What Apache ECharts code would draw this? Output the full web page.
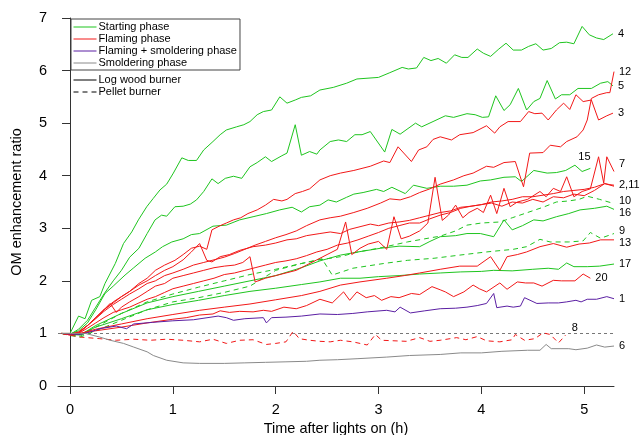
<!DOCTYPE html>
<html><head><meta charset="utf-8">
<script src="https://cdn.jsdelivr.net/npm/echarts@6/dist/echarts.min.js"></script>
<style>html,body{margin:0;padding:0;background:#fff}#c{width:641px;height:435px}</style>
</head><body><div id="c"></div>
<script>
// ---- data: [time (h), OM enhancement ratio] ----
const s4 = [[-0.08,1.0],[0,1.0],[0.083,1.33],[0.146,1.28],[0.21,1.63],[0.29,1.70],[0.34,1.95],[0.44,2.33],[0.52,2.71],[0.6,2.93],[0.665,3.16],[0.746,3.41],[0.81,3.57],[0.875,3.73],[0.94,3.84],[1.005,4.05],[1.087,4.34],[1.15,4.29],[1.23,4.29],[1.30,4.49],[1.39,4.65],[1.46,4.78],[1.52,4.87],[1.62,4.93],[1.69,4.97],[1.75,5.03],[1.82,5.16],[1.88,5.22],[1.96,5.25],[2.04,5.50],[2.11,5.38],[2.19,5.44],[2.25,5.49],[2.34,5.52],[2.43,5.63],[2.56,5.68],[2.69,5.76],[2.79,5.84],[3.0,5.87],[3.11,5.96],[3.23,6.06],[3.29,6.03],[3.37,6.05],[3.44,6.25],[3.51,6.19],[3.58,6.23],[3.66,6.14],[3.74,6.30],[3.81,6.25],[3.87,6.25],[3.96,6.41],[4.02,6.33],[4.09,6.27],[4.17,6.41],[4.24,6.52],[4.31,6.39],[4.39,6.39],[4.46,6.46],[4.53,6.51],[4.60,6.39],[4.68,6.42],[4.76,6.53],[4.83,6.54],[4.90,6.51],[4.98,6.84],[5.05,6.68],[5.12,6.62],[5.19,6.59],[5.28,6.70]];
const s5 = [[-0.08,1.0],[0,0.98],[0.083,1.08],[0.17,1.25],[0.25,1.5],[0.33,1.75],[0.42,2.0],[0.5,2.2],[0.58,2.45],[0.67,2.62],[0.75,2.9],[0.827,3.16],[0.89,3.25],[0.94,3.23],[1.02,3.41],[1.10,3.42],[1.17,3.46],[1.23,3.54],[1.30,3.70],[1.38,3.94],[1.44,3.85],[1.51,3.95],[1.59,3.99],[1.67,3.95],[1.75,4.17],[1.82,4.25],[1.90,4.36],[1.96,4.27],[2.06,4.38],[2.11,4.43],[2.19,4.97],[2.25,4.39],[2.33,4.46],[2.40,4.41],[2.43,4.49],[2.53,4.65],[2.61,4.68],[2.69,4.65],[2.77,4.78],[2.84,4.78],[2.92,4.84],[3.06,4.45],[3.13,4.88],[3.21,4.79],[3.36,5.0],[3.42,4.93],[3.53,5.03],[3.65,5.14],[3.73,5.11],[3.86,5.18],[3.94,5.16],[4.01,5.11],[4.07,5.12],[4.14,5.52],[4.22,5.24],[4.28,5.35],[4.36,5.66],[4.44,5.25],[4.51,5.41],[4.57,5.47],[4.64,5.81],[4.72,5.46],[4.78,5.54],[4.86,5.54],[4.94,5.66],[5.07,5.66],[5.16,5.76],[5.23,5.79],[5.28,5.71]];
const s12 = [[-0.08,1.0],[0,0.97],[0.083,1.0],[0.17,1.15],[0.25,1.28],[0.33,1.42],[0.42,1.55],[0.5,1.65],[0.58,1.75],[0.67,1.85],[0.75,1.95],[0.83,2.0],[0.92,2.1],[1.0,2.15],[1.1,2.22],[1.2,2.3],[1.3,2.35],[1.4,2.4],[1.5,2.45],[1.6,2.52],[1.7,2.6],[1.8,2.68],[1.9,2.75],[2.0,2.82],[2.1,2.88],[2.2,2.95],[2.3,3.05],[2.43,3.16],[2.53,3.2],[2.63,3.23],[2.76,3.3],[2.89,3.38],[3.02,3.48],[3.11,3.56],[3.21,3.54],[3.31,3.6],[3.40,3.68],[3.5,3.75],[3.6,3.84],[3.73,3.92],[3.83,4.0],[3.92,4.05],[4.05,4.18],[4.12,4.16],[4.22,4.25],[4.33,4.27],[4.41,3.79],[4.47,4.43],[4.6,4.44],[4.67,4.58],[4.77,4.55],[4.83,4.65],[4.93,4.74],[4.99,4.87],[5.03,5.06],[5.07,5.47],[5.14,5.54],[5.22,5.58],[5.25,5.58],[5.29,5.98]];
const s3 = [[-0.08,1.0],[0,0.98],[0.083,1.02],[0.17,1.15],[0.25,1.3],[0.33,1.45],[0.42,1.6],[0.5,1.7],[0.58,1.8],[0.67,1.95],[0.75,2.05],[0.83,2.2],[0.92,2.3],[1.02,2.39],[1.1,2.5],[1.18,2.62],[1.26,2.66],[1.33,2.6],[1.38,2.97],[1.46,3.05],[1.52,3.1],[1.59,3.16],[1.66,3.2],[1.73,3.28],[1.82,3.35],[1.90,3.44],[1.98,3.55],[2.06,3.52],[2.11,3.55],[2.19,3.66],[2.26,3.7],[2.33,3.75],[2.43,3.92],[2.53,4.0],[2.63,4.05],[2.76,4.10],[2.92,4.18],[3.05,4.28],[3.11,4.25],[3.19,4.55],[3.32,4.27],[3.39,4.49],[3.47,4.55],[3.53,4.69],[3.60,4.74],[3.71,4.68],[3.79,4.78],[3.92,4.82],[4.05,4.95],[4.13,4.81],[4.18,4.93],[4.26,5.03],[4.38,5.03],[4.46,5.22],[4.52,5.18],[4.59,5.19],[4.65,5.06],[4.73,5.25],[4.80,5.38],[4.86,5.26],[4.92,5.54],[4.99,5.41],[5.07,5.44],[5.14,5.06],[5.22,5.14],[5.28,5.19]];
const s15 = [[-0.08,1.0],[0,0.99],[0.083,1.05],[0.17,1.2],[0.25,1.45],[0.34,1.76],[0.42,1.9],[0.535,2.11],[0.62,2.25],[0.73,2.43],[0.83,2.55],[0.9,2.65],[0.99,2.74],[1.1,2.8],[1.18,2.88],[1.26,2.90],[1.39,3.04],[1.52,3.06],[1.65,3.16],[1.78,3.22],[1.91,3.28],[2.04,3.35],[2.16,3.40],[2.25,3.31],[2.33,3.41],[2.43,3.44],[2.51,3.54],[2.59,3.50],[2.69,3.59],[2.76,3.65],[2.85,3.68],[2.98,3.74],[3.05,3.70],[3.13,3.78],[3.26,3.66],[3.34,3.82],[3.47,3.76],[3.60,3.80],[3.73,3.80],[3.86,3.82],[3.99,3.90],[4.09,3.92],[4.22,3.97],[4.33,3.98],[4.39,3.89],[4.51,4.10],[4.64,4.05],[4.73,4.06],[4.82,4.10],[4.91,4.20],[4.98,4.08],[5.06,4.14]];
const s7 = [[-0.08,1.0],[0,0.97],[0.083,1.02],[0.17,1.15],[0.25,1.3],[0.33,1.45],[0.39,1.57],[0.45,1.4],[0.5,1.5],[0.58,1.6],[0.67,1.7],[0.75,1.8],[0.83,1.9],[0.92,1.95],[1.0,2.05],[1.1,2.1],[1.2,2.15],[1.3,2.2],[1.4,2.25],[1.5,2.28],[1.6,2.3],[1.68,2.35],[1.75,2.46],[1.8,1.98],[1.9,2.05],[2.0,2.1],[2.1,2.15],[2.2,2.2],[2.3,2.3],[2.4,2.4],[2.5,2.5],[2.6,2.6],[2.68,3.12],[2.74,2.5],[2.82,2.62],[2.9,2.7],[3.0,2.75],[3.08,2.6],[3.15,3.22],[3.22,2.8],[3.3,2.85],[3.4,2.95],[3.48,3.1],[3.55,3.97],[3.62,3.15],[3.68,3.25],[3.75,3.44],[3.82,3.2],[3.88,3.3],[3.96,3.38],[4.02,3.3],[4.09,3.63],[4.15,3.28],[4.22,3.76],[4.28,3.41],[4.35,3.5],[4.45,3.55],[4.57,3.70],[4.63,3.6],[4.70,3.76],[4.77,3.7],[4.83,3.98],[4.90,3.60],[4.98,3.7],[5.06,3.75],[5.14,4.36],[5.19,3.86],[5.22,4.36],[5.29,4.08]];
const s2 = [[-0.08,1.0],[0,0.98],[0.083,1.03],[0.17,1.15],[0.25,1.3],[0.33,1.45],[0.42,1.58],[0.5,1.7],[0.58,1.8],[0.67,1.92],[0.75,2.0],[0.83,2.1],[0.92,2.2],[1.0,2.27],[1.1,2.4],[1.18,2.55],[1.26,2.71],[1.33,2.39],[1.38,2.36],[1.46,2.46],[1.55,2.5],[1.65,2.58],[1.78,2.65],[1.9,2.68],[2.0,2.72],[2.11,2.78],[2.2,2.8],[2.3,2.86],[2.43,2.90],[2.53,2.93],[2.63,2.90],[2.72,2.98],[2.82,3.03],[2.92,3.08],[3.0,3.05],[3.1,3.1],[3.2,3.12],[3.3,3.15],[3.4,3.2],[3.5,3.25],[3.6,3.3],[3.7,3.33],[3.8,3.4],[3.9,3.42],[4.0,3.45],[4.1,3.5],[4.2,3.52],[4.3,3.55],[4.4,3.6],[4.5,3.6],[4.6,3.63],[4.7,3.66],[4.8,3.7],[4.9,3.72],[5.0,3.74],[5.1,3.78],[5.2,3.85],[5.25,3.83],[5.29,3.82]];
const s11 = [[-0.08,1.0],[0,0.99],[0.083,1.0],[0.17,1.1],[0.25,1.2],[0.33,1.3],[0.42,1.4],[0.5,1.45],[0.58,1.5],[0.67,1.58],[0.75,1.65],[0.83,1.7],[0.92,1.78],[1.0,1.85],[1.1,1.9],[1.2,1.95],[1.3,2.0],[1.4,2.05],[1.5,2.12],[1.6,2.15],[1.7,2.2],[1.8,2.25],[1.9,2.3],[2.0,2.35],[2.1,2.38],[2.2,2.42],[2.3,2.48],[2.4,2.55],[2.5,2.6],[2.6,2.68],[2.7,2.72],[2.8,2.78],[2.9,2.85],[3.0,2.92],[3.1,3.0],[3.2,3.05],[3.3,3.1],[3.4,3.1],[3.5,3.18],[3.6,3.25],[3.7,3.3],[3.8,3.38],[3.9,3.42],[4.0,3.45],[4.1,3.48],[4.2,3.42],[4.3,3.5],[4.4,3.48],[4.5,3.55],[4.6,3.5],[4.7,3.6],[4.8,3.58],[4.9,3.65],[5.0,3.62],[5.1,3.72],[5.2,3.85],[5.29,3.8]];
const s10 = [[-0.08,1.0],[0,0.97],[0.1,0.95],[0.25,1.12],[0.5,1.38],[0.75,1.6],[1.0,1.75],[1.25,1.88],[1.5,2.0],[1.75,2.12],[2.0,2.22],[2.25,2.33],[2.43,2.4],[2.63,2.46],[2.8,2.55],[3.0,2.62],[3.28,2.74],[3.45,2.8],[3.6,2.85],[3.75,2.95],[3.86,3.06],[4.0,3.1],[4.18,3.12],[4.3,3.2],[4.45,3.3],[4.6,3.4],[4.73,3.5],[4.85,3.52],[4.95,3.55],[5.03,3.61],[5.15,3.55],[5.29,3.47]];
const s16 = [[-0.08,1.0],[0,0.98],[0.1,0.97],[0.25,1.15],[0.5,1.38],[0.75,1.58],[1.0,1.7],[1.25,1.8],[1.5,1.9],[1.75,2.0],[2.0,2.1],[2.25,2.25],[2.43,2.38],[2.63,2.49],[2.8,2.55],[3.02,2.62],[3.2,2.66],[3.40,2.65],[3.5,2.75],[3.60,2.84],[3.75,2.86],[3.86,2.90],[3.99,2.90],[4.12,2.84],[4.22,3.16],[4.30,2.97],[4.4,3.05],[4.51,3.16],[4.6,3.14],[4.73,3.22],[4.85,3.28],[4.96,3.35],[5.1,3.38],[5.22,3.42],[5.29,3.36]];
const s9 = [[-0.08,1.0],[0,0.96],[0.1,0.93],[0.25,1.05],[0.5,1.25],[0.75,1.45],[1.0,1.6],[1.25,1.68],[1.5,1.78],[1.75,1.9],[2.0,2.2],[2.25,2.33],[2.45,2.42],[2.55,2.11],[2.75,2.24],[3.05,2.33],[3.28,2.39],[3.54,2.43],[3.79,2.49],[4.05,2.55],[4.31,2.60],[4.44,2.65],[4.57,2.79],[4.67,2.74],[4.85,2.74],[4.99,2.76],[5.06,2.92],[5.16,2.81],[5.29,2.90]];
const s13 = [[-0.08,1.0],[0,0.99],[0.1,1.0],[0.25,1.08],[0.5,1.18],[0.75,1.28],[1.0,1.36],[1.26,1.44],[1.5,1.5],[1.75,1.56],[2.0,1.64],[2.25,1.72],[2.43,1.8],[2.63,1.92],[2.82,1.98],[3.08,2.05],[3.25,2.1],[3.40,2.15],[3.6,2.22],[3.79,2.28],[3.96,2.28],[4.09,2.46],[4.18,2.20],[4.25,2.46],[4.35,2.5],[4.44,2.55],[4.57,2.65],[4.70,2.71],[4.83,2.64],[4.95,2.7],[5.05,2.72],[5.16,2.78],[5.29,2.78]];
const s17 = [[-0.08,1.0],[0,0.98],[0.1,0.98],[0.25,1.12],[0.5,1.28],[0.75,1.45],[1.0,1.55],[1.25,1.63],[1.5,1.72],[1.75,1.8],[2.0,1.86],[2.25,1.93],[2.43,1.98],[2.63,2.05],[2.82,2.05],[3.0,2.08],[3.2,2.1],[3.40,2.13],[3.6,2.15],[3.8,2.17],[4.0,2.18],[4.12,2.20],[4.3,2.19],[4.5,2.22],[4.65,2.24],[4.75,2.22],[4.83,2.34],[4.9,2.27],[5.03,2.27],[5.15,2.28],[5.29,2.32]];
const s20 = [[-0.08,1.0],[0,1.0],[0.1,1.0],[0.25,1.05],[0.5,1.12],[0.75,1.2],[1.0,1.27],[1.13,1.3],[1.26,1.35],[1.39,1.37],[1.46,1.43],[1.55,1.40],[1.65,1.42],[1.78,1.41],[1.88,1.44],[1.96,1.42],[2.08,1.5],[2.2,1.47],[2.3,1.53],[2.43,1.65],[2.55,1.58],[2.66,1.79],[2.72,1.63],[2.79,1.79],[2.88,1.68],[2.96,1.72],[3.03,1.63],[3.12,1.70],[3.2,1.68],[3.32,1.76],[3.40,1.74],[3.52,1.89],[3.6,1.83],[3.65,1.79],[3.73,1.70],[3.83,1.79],[3.92,1.92],[3.98,1.85],[4.05,1.79],[4.18,1.96],[4.25,1.84],[4.35,1.98],[4.43,1.96],[4.51,1.96],[4.59,1.90],[4.70,2.01],[4.78,2.0],[4.91,2.0],[4.99,2.13],[5.06,2.05]];
const s1 = [[-0.08,1.0],[0,0.99],[0.1,0.98],[0.2,1.03],[0.29,1.09],[0.45,1.14],[0.55,1.09],[0.62,1.18],[0.8,1.21],[1.0,1.24],[1.2,1.26],[1.44,1.33],[1.52,1.3],[1.59,1.25],[1.7,1.28],[1.88,1.30],[1.91,1.20],[1.96,1.3],[2.1,1.31],[2.25,1.33],[2.43,1.37],[2.6,1.36],[2.75,1.38],[2.89,1.41],[3.08,1.44],[3.16,1.41],[3.21,1.50],[3.31,1.39],[3.45,1.43],[3.60,1.47],[3.75,1.48],[3.86,1.50],[3.96,1.53],[4.05,1.57],[4.12,1.76],[4.15,1.49],[4.25,1.52],[4.31,1.50],[4.38,1.52],[4.42,1.68],[4.54,1.57],[4.65,1.58],[4.75,1.58],[4.83,1.60],[4.92,1.63],[4.97,1.60],[5.03,1.65],[5.12,1.65],[5.22,1.70],[5.29,1.66]];
const s8 = [[-0.08,1.0],[0,0.97],[0.1,0.93],[0.29,0.9],[0.45,0.87],[0.62,0.89],[0.78,0.87],[0.94,0.89],[1.1,0.87],[1.26,0.84],[1.39,0.89],[1.52,0.81],[1.65,0.87],[1.78,0.88],[1.91,0.79],[2.0,0.81],[2.1,0.84],[2.17,1.04],[2.23,0.9],[2.33,0.87],[2.43,0.85],[2.53,0.84],[2.63,0.87],[2.75,0.84],[2.89,0.78],[2.97,0.98],[3.03,0.87],[3.27,0.85],[3.40,0.92],[3.5,0.85],[3.6,0.87],[3.76,0.92],[3.85,0.88],[3.96,0.94],[4.05,0.86],[4.18,0.84],[4.3,0.88],[4.33,0.98],[4.42,0.87],[4.52,0.9],[4.60,1.01],[4.67,0.98],[4.75,0.82],[4.82,0.97]];
const s6 = [[-0.08,1.0],[0,1.0],[0.15,1.0],[0.29,0.93],[0.39,0.87],[0.52,0.81],[0.62,0.74],[0.75,0.65],[0.81,0.58],[0.94,0.49],[1.1,0.44],[1.26,0.43],[1.5,0.43],[1.7,0.44],[1.9,0.45],[2.1,0.46],[2.3,0.47],[2.43,0.49],[2.6,0.50],[2.8,0.52],[3.08,0.55],[3.3,0.58],[3.6,0.60],[3.8,0.63],[4.0,0.63],[4.2,0.66],[4.45,0.68],[4.57,0.68],[4.63,0.79],[4.68,0.71],[4.85,0.71],[4.92,0.69],[5.03,0.72],[5.12,0.78],[5.2,0.74],[5.29,0.76]];
const xTicks = [0, 1, 2, 3, 4, 5];
const refLevel = 1;
const phaseNames = ['Starting phase', 'Flaming phase', 'Flaming + smoldering phase', 'Smoldering phase'];
const burnerNames = ['Log wood burner', 'Pellet burner'];

// ---- styling ----
const GREEN = '#1FC51F', RED = '#F21818', PURPLE = '#5B1FA3', GRAY = '#8A8A8A';
const FONT = 'Liberation Sans, Arial, Helvetica, sans-serif';
const DASH = [5, 4];

const lines = [
  {id:'4', data:s4, color:GREEN},
  {id:'5', data:s5, color:GREEN},
  {id:'15', data:s15, color:GREEN, off:[-17,-11]},
  {id:'16', data:s16, color:GREEN, off:[0,4]},
  {id:'17', data:s17, color:GREEN},
  {id:'10', data:s10, color:GREEN, dash:true, off:[0,-3]},
  {id:'9', data:s9, color:GREEN, dash:true, off:[0,-3]},
  {id:'20', data:s20, color:RED},
  {id:'13', data:s13, color:RED, off:[0,3]},
  {id:'11', data:s11, color:RED, nolabel:true},
  {id:'2,11', data:s2, color:RED},
  {id:'7', data:s7, color:RED, off:[0,-8]},
  {id:'3', data:s3, color:RED},
  {id:'12', data:s12, color:RED},
  {id:'8', data:s8, color:RED, dash:true, off:[1,-7]},
  {id:'1', data:s1, color:PURPLE},
  {id:'6', data:s6, color:GRAY}
];

const series = lines.map(l => ({
  name: 's' + l.id, type: 'line', data: l.data, symbol: 'none', silent: true,
  lineStyle: {color: l.color, width: 1, type: l.dash ? DASH : 'solid'},
  itemStyle: {color: l.color},
  endLabel: l.nolabel ? {show:false} : {show: true, formatter: l.id, color: '#000', fontSize: 11, fontFamily: FONT, distance: 5, offset: l.off || [0,0]},
  z: 3
}));
series[series.length-1].markLine = {
  silent: true, symbol: 'none', label: {show:false},
  lineStyle: {color: '#777', type: [3,3], width: 1},
  data: [{yAxis: refLevel}], z: 2
};
const legendColors = [GREEN, RED, PURPLE, GRAY];
phaseNames.forEach((n,i) => series.push({name:n, type:'line', data:[], symbol:'none', lineStyle:{color:legendColors[i], width:1}, itemStyle:{color:legendColors[i]}}));
burnerNames.forEach((n,i) => series.push({name:n, type:'line', data:[], symbol:'none', lineStyle:{color:'#000', width:1, type: i ? DASH : 'solid'}, itemStyle:{color:'#000'}}));

const legendCommon = {
  orient: 'vertical', left: 71, itemWidth: 23, itemHeight: 12, itemGap: 0,
  padding: [2, 3, 1, 2], selectedMode: false,
  itemStyle: {opacity: 0, borderWidth: 0},
  lineStyle: {width: 1},
  textStyle: {fontSize: 11, color: '#000', fontFamily: FONT, lineHeight: 12, padding: [0,0,0,-3]}
};

const chart = echarts.init(document.getElementById('c'), null, {renderer:'canvas'});
chart.setOption({
  animation: false,
  backgroundColor: '#fff',
  textStyle: {fontFamily: FONT},
  grid: {left: 58, right: 27, top: 18, bottom: 49, containLabel: false, outerBoundsMode: 'none'},
  legend: [
    Object.assign({}, legendCommon, {data: phaseNames, top: 19, borderColor: '#444', borderWidth: 1}),
    Object.assign({}, legendCommon, {data: burnerNames, top: 72})
  ],
  xAxis: {
    type: 'value', min: -0.117, max: 5.29,
    name: 'Time after lights on (h)', nameLocation: 'middle', nameGap: 34,
    nameTextStyle: {fontSize: 14.5, color: '#000', fontFamily: FONT},
    axisLine: {show: true, lineStyle: {color: '#333', width: 1}},
    axisTick: {show: true, length: 8, customValues: xTicks, lineStyle: {color: '#333'}},
    axisLabel: {customValues: xTicks, fontSize: 14.5, color: '#000', margin: 16, fontFamily: FONT},
    splitLine: {show: false}
  },
  yAxis: {
    type: 'value', min: 0, max: 7, interval: 1,
    name: 'OM enhancement ratio', nameLocation: 'middle', nameGap: 34, nameRotate: 90,
    nameTextStyle: {fontSize: 14.5, color: '#000', fontFamily: FONT},
    axisLine: {show: true, lineStyle: {color: '#333', width: 1}},
    axisTick: {show: true, length: 8, lineStyle: {color: '#333'}},
    axisLabel: {fontSize: 14.5, color: '#000', margin: 11, fontFamily: FONT},
    splitLine: {show: false}
  },
  series: series
});
</script></body></html>
